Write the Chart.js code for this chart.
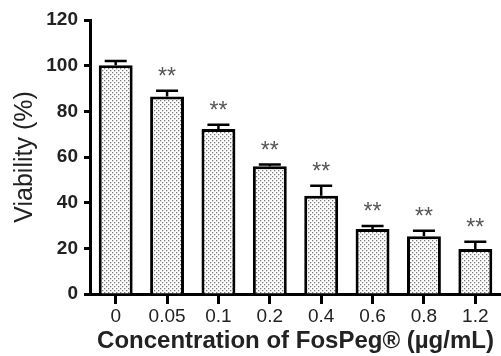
<!DOCTYPE html>
<html>
<head>
<meta charset="utf-8">
<script src="https://cdn.jsdelivr.net/npm/chart.js@4"></script>
<style>
  html, body { margin: 0; padding: 0; background: #fff; }
  #wrap { width: 501px; height: 356px; }
</style>
</head>
<body>
<div id="wrap"><canvas id="myChart" width="501" height="356"></canvas></div>
<script>
const labels = ["0", "0.05", "0.1", "0.2", "0.4", "0.6", "0.8", "1.2"];
const viability = [100.2, 86.5, 72.3, 56.0, 43.0, 28.5, 25.3, 19.7];
const errors = [1.8, 2.5, 1.8, 0.7, 4.4, 1.3, 2.4, 3.2];
const marks = ["", "**", "**", "**", "**", "**", "**", "**"];
const yTicks = [0, 20, 40, 60, 80, 100, 120];

// dotted fill like the original
function dotPattern() {
  const c = document.createElement("canvas");
  c.width = 4;
  c.height = 4;
  const g = c.getContext("2d");
  g.fillStyle = "#fff";
  g.fillRect(0, 0, 4, 4);
  g.fillStyle = "#7a7a7a";
  g.fillRect(0, 0, 1.3, 1.3);
  g.fillRect(2, 2, 1.3, 1.3);
  return g.createPattern(c, "repeat");
}

const errorBars = {
  id: "errorBars",
  afterDatasetsDraw(chart) {
    const ctx = chart.ctx;
    const meta = chart.getDatasetMeta(0);
    const y = chart.scales.y;
    ctx.save();
    meta.data.forEach((bar, i) => {
      const top = y.getPixelForValue(viability[i]);
      const hi = y.getPixelForValue(viability[i] + errors[i]);
      ctx.strokeStyle = "#000";
      ctx.lineWidth = 2.5;
      ctx.beginPath();
      ctx.moveTo(bar.x, top);
      ctx.lineTo(bar.x, hi);
      ctx.moveTo(bar.x - 11, hi);
      ctx.lineTo(bar.x + 11, hi);
      ctx.stroke();
      if (marks[i]) {
        ctx.fillStyle = "#555";
        ctx.font = "23px 'Liberation Sans', Arial, sans-serif";
        ctx.textAlign = "center";
        ctx.textBaseline = "middle";
        ctx.fillText(marks[i], bar.x, hi - 13);
      }
    });
    ctx.restore();
  },
};

const data = {
  labels: labels,
  datasets: [
    {
      label: "Viability",
      data: viability,
      backgroundColor: dotPattern(),
      borderColor: "#000",
      borderWidth: 3,
      barPercentage: 0.66,
      categoryPercentage: 1,
    },
  ],
};

const config = {
  type: "bar",
  data: data,
  plugins: [errorBars],
  options: {
    responsive: false,
    animation: false,
    layout: { padding: { top: 20, right: 0, left: 0, bottom: 0 } },
    plugins: {
      legend: { display: false },
      tooltip: { enabled: false },
    },
    scales: {
      x: {
        afterFit(s) { s.height = 62; },
        grid: {
          offset: false,
          drawOnChartArea: false,
          drawTicks: true,
          tickLength: 10,
          tickWidth: 3,
          tickColor: "#000",
        },
        border: { color: "#000", width: 3 },
        ticks: {
          color: "#222",
          padding: 1,
          font: { family: "'Liberation Sans', Arial", size: 19 },
        },
        title: {
          display: true,
          text: "Concentration of FosPeg\u00ae (\u00b5g/mL)",
          color: "#222",
          padding: { top: 0, bottom: 0 },
          font: { family: "'Liberation Sans', Arial", size: 24, weight: "bold" },
        },
      },
      y: {
        min: 0,
        max: 120,
        afterFit(s) { s.width = 90; },
        afterBuildTicks(s) { s.ticks = yTicks.map((v) => ({ value: v })); },
        grid: {
          drawOnChartArea: false,
          drawTicks: true,
          tickLength: 6,
          tickWidth: 3,
          tickColor: "#000",
        },
        border: { color: "#000", width: 3 },
        ticks: {
          color: "#222",
          padding: 6,
          font: { family: "'Liberation Sans', Arial", size: 19, weight: "bold" },
        },
        title: {
          display: true,
          text: "Viability (%)",
          color: "#222",
          padding: { top: 10, bottom: 0 },
          font: { family: "'Liberation Sans', Arial", size: 25 },
        },
      },
    },
  },
};

const barChart = new Chart(document.getElementById("myChart"), config);
</script>
</body>
</html>
